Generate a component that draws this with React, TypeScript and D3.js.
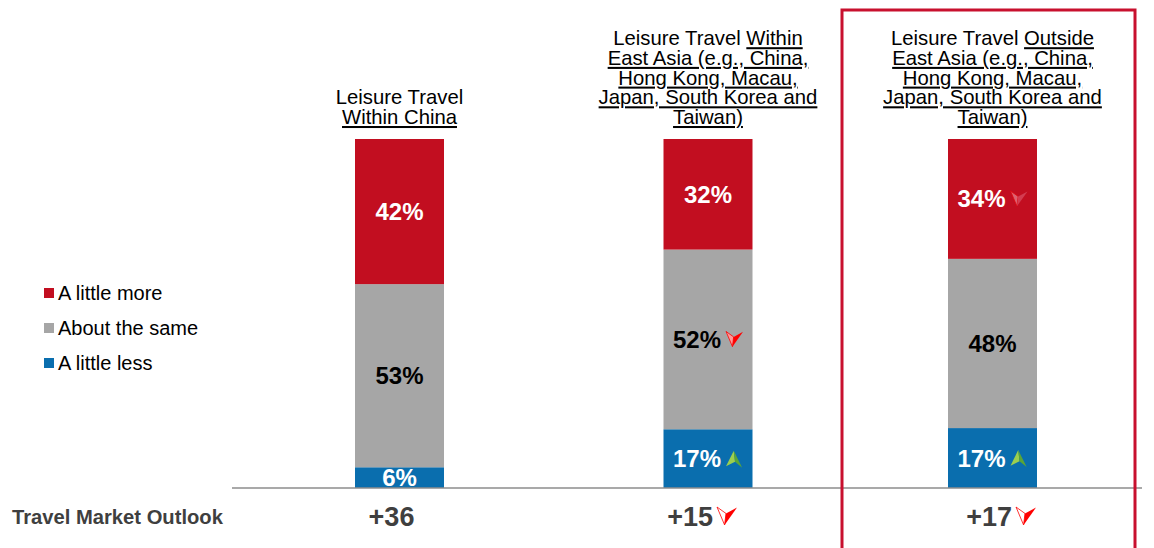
import React from "react";
import * as d3 from "d3";

const categories = ["china", "eastAsia", "outside"];
const moreValues = [42, 32, 34];
const sameValues = [53, 52, 48];
const lessValues = [6, 17, 17];
const moreArrows = ["", "", "downFaded"];
const sameArrows = ["", "down", ""];
const lessArrows = ["", "up", "up"];
const outlookLabels = ["+36", "+15", "+17"];
const outlookArrows = ["", "down", "down"];
const legendLabels = ["A little more", "About the same", "A little less"];

type Seg = { text: string; u: boolean };
const titles: Seg[][][] = [
  [
    [{ text: "Leisure Travel", u: false }],
    [{ text: "Within China", u: true }],
  ],
  [
    [{ text: "Leisure Travel ", u: false }, { text: "Within", u: true }],
    [{ text: "East Asia (e.g., China,", u: true }],
    [{ text: "Hong Kong, Macau,", u: true }],
    [{ text: "Japan, South Korea and", u: true }],
    [{ text: "Taiwan)", u: true }],
  ],
  [
    [{ text: "Leisure Travel ", u: false }, { text: "Outside", u: true }],
    [{ text: "East Asia (e.g., China,", u: true }],
    [{ text: "Hong Kong, Macau,", u: true }],
    [{ text: "Japan, South Korea and", u: true }],
    [{ text: "Taiwan)", u: true }],
  ],
];

const RED = "#c20e20";
const GREY = "#a6a6a6";
const BLUE = "#0a6eae";
const FONT = "'Liberation Sans', Arial, sans-serif";

function DownArrow({ x, y, s, faded, hollow }: { x: number; y: number; s: number; faded?: boolean; hollow?: boolean }) {
  const w = s, h = s * 0.9;
  const p = (a: number, b: number) => `${x + a * w},${y + b * h}`;
  return (
    <g opacity={faded ? 0.5 : 1}>
      <polygon
        points={[p(0, 0), p(0.45, 0.36), p(0.38, 1)].join(" ")}
        fill={hollow ? "#fff" : faded ? "#f7b6bf" : "#ff9a9a"}
        stroke="#ff0000"
        strokeWidth={0.8}
        strokeLinejoin="round"
      />
      <polygon points={[p(0.45, 0.36), p(1, 0.03), p(0.38, 1)].join(" ")} fill={faded ? "#e46a80" : "#ff0000"} />
    </g>
  );
}

function UpArrow({ x, y, s }: { x: number; y: number; s: number }) {
  const w = s * 0.95, h = s;
  const p = (a: number, b: number) => `${x + a * w},${y + b * h}`;
  return (
    <g>
      <polygon points={[p(0.48, 0), p(0, 0.92), p(0.56, 0.66)].join(" ")} fill="#9ccf4f" />
      <polygon points={[p(0.48, 0), p(0.56, 0.66), p(1, 1)].join(" ")} fill="#5aa537" />
    </g>
  );
}

function Arrow({ kind, x, y, s, hollow }: { kind: string; x: number; y: number; s: number; hollow?: boolean }) {
  if (kind === "up") return <UpArrow x={x} y={y} s={s} />;
  if (kind === "down") return <DownArrow x={x} y={y} s={s} hollow={hollow} />;
  if (kind === "downFaded") return <DownArrow x={x} y={y} s={s} faded />;
  return null;
}

export default function App() {
  const width = 1154, height = 548;
  const baseY = 488, topY = 139, barW = 89;
  // layout: horizontal nudge of the outlook labels relative to the bar centres
  const outlookShift = [-8, 5, 19.5];

  const x = d3.scaleOrdinal<string, number>().domain(categories).range([399.5, 708, 992.5]);
  const y = d3.scaleLinear().domain([0, 1]).range([baseY, topY]);

  const rows = categories.map((c, i) => ({
    cat: c,
    less: lessValues[i],
    same: sameValues[i],
    more: moreValues[i],
  }));
  const keys = ["less", "same", "more"];
  const stack = d3.stack<any>().keys(keys).offset(d3.stackOffsetExpand);
  const series = stack(rows);
  const colors: Record<string, string> = { less: BLUE, same: GREY, more: RED };
  const textColors: Record<string, string> = { less: "#fff", same: "#000", more: "#fff" };
  const arrowsByKey: Record<string, string[]> = { less: lessArrows, same: sameArrows, more: moreArrows };
  const valuesByKey: Record<string, number[]> = { less: lessValues, same: sameValues, more: moreValues };

  const lineH = 19.7;
  const lastBaseline = 124;

  return (
    <svg width={width} height={height} style={{ position: "absolute", left: 0, top: 0 }} fontFamily={FONT}>
      <rect width={width} height={height} fill="#fff" />
      {/* titles */}
      {titles.map((lines, i) => (
        <text key={i} x={x(categories[i])} textAnchor="middle" fontSize={20.3} fill="#000">
          {lines.map((segs, j) => (
            <tspan key={j} x={x(categories[i])} y={lastBaseline - (lines.length - 1 - j) * lineH}>
              {segs.map((s, k) => (
                <tspan key={k} style={{ textDecoration: s.u ? "underline" : "none" }}>
                  {s.text}
                </tspan>
              ))}
            </tspan>
          ))}
        </text>
      ))}
      {/* bars */}
      {series.map((s) => (
        <g key={s.key}>
          {s.map((d, i) => {
            const cx = x(categories[i]);
            const y0 = y(d[1]), y1 = y(d[0]);
            const arrow = arrowsByKey[s.key][i];
            const midY = (y0 + y1) / 2;
            const label = `${valuesByKey[s.key][i]}%`;
            return (
              <g key={i}>
                <rect x={cx - barW / 2} y={y0} width={barW} height={y1 - y0} fill={colors[s.key]} />
                <text
                  x={arrow ? cx + 13 : cx}
                  y={midY + 8.5}
                  textAnchor={arrow ? "end" : "middle"}
                  fontSize={24}
                  fontWeight="bold"
                  fill={textColors[s.key]}
                >
                  {label}
                </text>
                {arrow && <Arrow kind={arrow} x={cx + 18} y={midY - 8} s={17} />}
              </g>
            );
          })}
        </g>
      ))}
      {/* axis */}
      <line x1={232} x2={1142} y1={baseY} y2={baseY} stroke="#8c8c8c" strokeWidth={1.5} />
      {/* legend */}
      {legendLabels.map((l, i) => (
        <g key={l}>
          <rect x={44} y={288 + i * 35} width={10} height={10} fill={[RED, GREY, BLUE][i]} />
          <text x={58} y={300 + i * 35} fontSize={20} fill="#000">
            {l}
          </text>
        </g>
      ))}
      {/* outlook row */}
      <text x={12} y={524} fontSize={20.2} fontWeight="bold" fill="#3f3f3f">
        Travel Market Outlook
      </text>
      {outlookLabels.map((l, i) => {
        const cx = x(categories[i]) + outlookShift[i];
        const arrow = outlookArrows[i];
        return (
          <g key={i}>
            <text
              x={cx}
              y={526}
              textAnchor={arrow ? "end" : "middle"}
              fontSize={27}
              fontWeight="bold"
              fill="#3f3f3f"
            >
              {l}
            </text>
            {arrow && <Arrow kind={arrow} x={cx + 4} y={507} s={20} hollow />}
          </g>
        );
      })}
      {/* highlight frame */}
      <rect x={842} y={10} width={293} height={560} fill="none" stroke="#c8102e" strokeWidth={3} />
    </svg>
  );
}
